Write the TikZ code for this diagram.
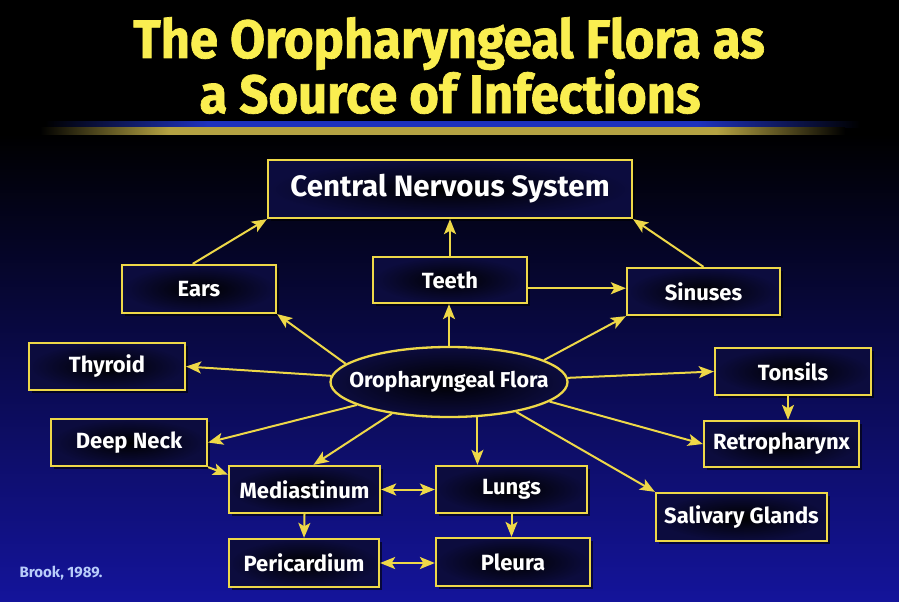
\documentclass[tikz,border=0pt]{standalone}
\usepackage{fontspec}
\setmainfont{Fira Sans}
\newfontfamily\ttlfam{Fira Sans}[BoldFeatures={FakeBold=1.3}]
\usetikzlibrary{arrows.meta,shapes.geometric,calc,shadows}
\definecolor{yel}{RGB}{238,216,72}
\definecolor{ttl}{RGB}{250,238,80}
\definecolor{bgmid}{RGB}{8,8,85}
\definecolor{bgbot}{RGB}{20,20,155}
\definecolor{cite}{RGB}{185,205,250}
\definecolor{barblue}{RGB}{30,50,190}
\definecolor{bargold}{RGB}{180,162,66}
\definecolor{boxedge}{RGB}{12,12,62}
\pgfdeclarehorizontalshading{goldbar}{100bp}{color(0bp)=(black); color(25bp)=(black); color(33bp)=(bargold); color(67bp)=(bargold); color(75bp)=(black); color(100bp)=(black)}
\pgfdeclarehorizontalshading{bluebar}{100bp}{color(0bp)=(black); color(25bp)=(black); color(35bp)=(barblue); color(65bp)=(barblue); color(75bp)=(black); color(100bp)=(black)}
\begin{document}
\begin{tikzpicture}[x=1pt,y=-1pt,
  lbl/.style={font=\fontsize{22}{24}\selectfont\bfseries},
  box/.style={draw=yel,line width=2.3pt,inner color=black,outer color=boxedge,text=white,lbl,inner sep=0pt,
    drop shadow={shadow xshift=3pt,shadow yshift=-3pt,opacity=0.6,fill=black}},
  arr/.style={draw=yel,line width=2pt,-{Stealth[length=15pt,width=12pt,inset=3.5pt]}},
  darr/.style={draw=yel,line width=2pt,{Stealth[length=15pt,width=12pt,inset=3.5pt]}-{Stealth[length=15pt,width=12pt,inset=3.5pt]}},
  ttlfont/.style={font=\ttlfam\fontsize{54}{54}\selectfont\bfseries,text=ttl}
]
\useasboundingbox (0,0) rectangle (899,602);
% background
\fill[black] (0,0) rectangle (899,135);
\fill[top color=black,middle color=bgmid,bottom color=bgbot] (0,134) rectangle (899,602);
% separator bar
\shade[shading=bluebar] (45,121) rectangle (860,127);
\shade[shading=goldbar] (40,127) rectangle (845,134);
% title
\node[ttlfont,anchor=base] (t1) at (449,58) {\scalebox{0.94}[1]{The Oropharyngeal Flora as}};
\node[ttlfont,anchor=base] (t2) at (450,113) {\scalebox{0.94}[1]{a Source of Infections}};
% boxes
\node[box,minimum width=364pt,minimum height=58pt,font=\fontsize{29.5}{30}\selectfont\bfseries] (cns) at (450,189) {Central Nervous System};
\node[box,minimum width=154pt,minimum height=48pt] (ears) at (199,289) {Ears};
\node[box,minimum width=154pt,minimum height=46pt] (teeth) at (450,280) {Teeth};
\node[box,minimum width=153pt,minimum height=47pt] (sinuses) at (703.5,291.5) {Sinuses};
\node[box,minimum width=156pt,minimum height=47pt] (thyroid) at (107,366.5) {Thyroid};
\node[box,minimum width=156pt,minimum height=47pt] (tonsils) at (793,371.5) {Tonsils};
\node[box,minimum width=156pt,minimum height=47pt] (deepneck) at (129,442.5) {Deep Neck};
\node[box,minimum width=155pt,minimum height=46pt] (retro) at (781.5,444) {Retropharynx};
\node[box,minimum width=151pt,minimum height=47pt] (medi) at (304.5,489.5) {Mediastinum};
\node[box,minimum width=151pt,minimum height=47pt] (lungs) at (511.5,489.5) {Lungs};
\node[box,minimum width=171pt,minimum height=48pt] (saliv) at (741.5,517) {Salivary Glands};
\node[box,minimum width=150pt,minimum height=48pt] (peri) at (304,563) {Pericardium};
\node[box,minimum width=154pt,minimum height=48pt] (pleura) at (513,562) {Pleura};
\node[ellipse,draw=yel,line width=2.3pt,inner color=black,outer color=boxedge,inner sep=0pt,
  minimum width=237pt,minimum height=70pt] (flora) at (449,382) {};
\node[text=white,inner sep=0pt,font=\fontsize{21.5}{22}\selectfont\bfseries] (floratxt) at (flora.center) {Oropharyngeal Flora};
\node[anchor=base west,text=cite,font=\fontsize{15}{16}\selectfont\bfseries] (cite) at (16,577) {Brook, 1989.};
% connectors
\draw[arr] (ears.104) -- (cns.south west);
\draw[arr] (teeth.north) -- (cns.south);
\draw[arr] (sinuses.north) -- (cns.south east);
\draw[arr] (teeth.-6.7) -- (teeth.-6.7 -| sinuses.west);
\draw[arr] (flora.170) -- (ears.south east);
\draw[arr] (flora.north) -- (flora.north |- teeth.south);
\draw[arr] (flora.13) -- (sinuses.south west);
\draw[arr] (flora.177) -- (thyroid.east);
\draw[arr] (flora.2.4) -- (tonsils.west);
\draw[arr] (flora.194) -- (deepneck.east);
\draw[arr] (flora.209) -- (medi.70);
\draw[arr] (flora.-51) -- (flora.-51 |- lungs.north);
\draw[arr] (flora.-11) -- (retro.west);
\draw[arr] (flora.-24) -- (saliv.north west);
\draw[arr] (deepneck.south east) -- (medi.169);
\draw[darr] (medi.east) -- (lungs.west);
\draw[arr] (medi.south) -- (peri.north);
\draw[arr] (lungs.south) -- (lungs.south |- pleura.north);
\draw[darr] (peri.east) -- (peri.east -| pleura.west);
\coordinate (tr) at ($(tonsils.south)+(-5,0)$);
\draw[arr] (tr) -- (tr |- retro.north);
\end{tikzpicture}
\end{document}
